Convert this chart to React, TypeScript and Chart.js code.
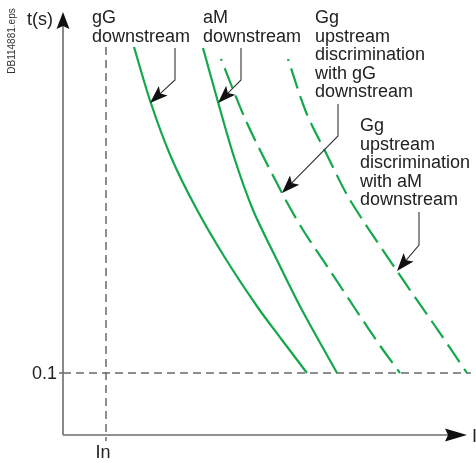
import React, { useEffect, useRef } from "react";
import { Chart, registerables } from "chart.js";

Chart.register(...registerables);

// Current (arbitrary linear units) and time (arbitrary linear units)
const gGDownstreamI = [17.75, 21.875, 27, 33.125, 40.375, 48.625, 54.75, 61];
const gGDownstreamT = [97, 83.25, 69.5, 57, 44.5, 32, 23.75, 15.5];

const aMDownstreamI = [35, 38.75, 42.75, 47.5, 53.5, 59.75, 68.5];
const aMDownstreamT = [96.75, 83.25, 69.5, 56.25, 43.75, 31.25, 15.5];

const ggWithGGI = [39.5, 46, 54.75, 60, 67, 72.75, 79.5, 84.25];
const ggWithGGT = [94, 78, 60.5, 51.25, 40.75, 32, 22, 15.5];

const ggWithAMI = [56.25, 60.75, 66, 71.75, 83.5, 92.5, 101];
const ggWithAMT = [94, 80.75, 70, 58.75, 41, 28, 15.5];

const X_MAX = 102;
const Y_MAX = 105;
const IN_VALUE = 10.75; // position of In on the current axis
const T01_VALUE = 15.5; // position of 0.1 s on the time axis

const xTickLabel = "In";
const yTickLabel = "0.1";
const xAxisLabel = "I";
const yAxisLabel = "t(s)";
const fileLabel = "DB114881.eps";

const labelGG = ["gG", "downstream"];
const labelAM = ["aM", "downstream"];
const labelGgGG = ["Gg", "upstream", "discrimination", "with gG", "downstream"];
const labelGgAM = ["Gg", "upstream", "discrimination", "with aM", "downstream"];

const GREEN = "#14a84b";
const FONT = '"Liberation Sans", Arial, Helvetica, sans-serif';

function pts(xs: number[], ys: number[]) {
  return xs.map((x, i) => ({ x, y: ys[i] }));
}

function arrowHead(
  ctx: CanvasRenderingContext2D,
  fx: number,
  fy: number,
  tx: number,
  ty: number,
  len: number,
  hw: number,
  notch: number
) {
  const dx = tx - fx;
  const dy = ty - fy;
  const d = Math.hypot(dx, dy);
  const ux = dx / d;
  const uy = dy / d;
  const px = -uy;
  const py = ux;
  const bx = tx - ux * len;
  const by = ty - uy * len;
  const nx = tx - ux * (len - notch);
  const ny = ty - uy * (len - notch);
  ctx.beginPath();
  ctx.moveTo(tx, ty);
  ctx.lineTo(bx + px * hw, by + py * hw);
  ctx.lineTo(nx, ny);
  ctx.lineTo(bx - px * hw, by - py * hw);
  ctx.closePath();
  ctx.fill();
}

const decorPlugin = {
  id: "decor",
  beforeDatasetsDraw(chart: any) {
    const ctx: CanvasRenderingContext2D = chart.ctx;
    const xs = chart.scales.x;
    const ys = chart.scales.y;
    const x0 = xs.getPixelForValue(0);
    const y0 = ys.getPixelForValue(0);
    const xIn = xs.getPixelForValue(IN_VALUE);
    const y01 = ys.getPixelForValue(T01_VALUE);
    ctx.save();
    ctx.strokeStyle = "#6a6a6a";
    ctx.lineWidth = 1.5;
    ctx.setLineDash([8, 5]);
    ctx.beginPath();
    ctx.moveTo(xIn, 47);
    ctx.lineTo(xIn, y0 + 6);
    ctx.stroke();
    ctx.beginPath();
    ctx.moveTo(x0, y01);
    ctx.lineTo(xs.getPixelForValue(X_MAX), y01);
    ctx.stroke();
    ctx.setLineDash([]);
    ctx.beginPath();
    ctx.moveTo(x0 - 4, y01);
    ctx.lineTo(x0, y01);
    ctx.stroke();
    ctx.restore();
  },
  afterDraw(chart: any) {
    const ctx: CanvasRenderingContext2D = chart.ctx;
    const xs = chart.scales.x;
    const ys = chart.scales.y;
    const x0 = xs.getPixelForValue(0);
    const y0 = ys.getPixelForValue(0);
    const xIn = xs.getPixelForValue(IN_VALUE);
    const y01 = ys.getPixelForValue(T01_VALUE);
    ctx.save();
    // axes
    ctx.strokeStyle = "#6d6d6d";
    ctx.lineWidth = 1.6;
    ctx.beginPath();
    ctx.moveTo(x0, y0);
    ctx.lineTo(x0, 22);
    ctx.moveTo(x0, y0);
    ctx.lineTo(458, y0);
    ctx.stroke();
    ctx.fillStyle = "#111";
    arrowHead(ctx, x0, 40, x0, 12, 17, 6.5, 3);
    arrowHead(ctx, 430, y0, 467, y0, 22, 6.5, 3);

    // texts
    ctx.fillStyle = "#222";
    ctx.font = `18px ${FONT}`;
    ctx.textBaseline = "alphabetic";
    ctx.textAlign = "left";
    ctx.fillText(yAxisLabel, 27, 25);
    ctx.fillText(xAxisLabel, 472, 442);
    ctx.textAlign = "right";
    ctx.fillText(yTickLabel, 57, y01 + 6);
    ctx.textAlign = "center";
    ctx.fillText(xTickLabel, xIn - 3, 458);
    ctx.textAlign = "left";
    const lh = 18.5;
    labelGG.forEach((t, i) => ctx.fillText(t, 92, 23 + i * lh));
    labelAM.forEach((t, i) => ctx.fillText(t, 203, 23 + i * lh));
    labelGgGG.forEach((t, i) => ctx.fillText(t, 315, 23 + i * lh));
    labelGgAM.forEach((t, i) => ctx.fillText(t, 360, 131 + i * lh));

    // file label
    ctx.save();
    ctx.translate(15, 41);
    ctx.rotate(-Math.PI / 2);
    ctx.font = `10px ${FONT}`;
    ctx.textAlign = "center";
    ctx.fillStyle = "#333";
    ctx.fillText(fileLabel, 0, 0);
    ctx.restore();

    // callouts
    const callouts = [
      [175, 48, 80, 150, 103],
      [241, 48, 80, 218, 103],
      [338, 104, 136, 282, 193],
      [419, 212, 245, 397, 271],
    ];
    ctx.strokeStyle = "#333";
    ctx.lineWidth = 1.1;
    ctx.fillStyle = "#111";
    callouts.forEach(([vx, vy1, vy2, tx, ty]) => {
      const d = Math.hypot(tx - vx, ty - vy2);
      const ex = tx - ((tx - vx) / d) * 12;
      const ey = ty - ((ty - vy2) / d) * 12;
      ctx.beginPath();
      ctx.moveTo(vx, vy1);
      ctx.lineTo(vx, vy2);
      ctx.lineTo(ex, ey);
      ctx.stroke();
      arrowHead(ctx, vx, vy2, tx, ty, 18, 6.5, 4);
    });
    ctx.restore();
  },
};

export default function App() {
  const ref = useRef<HTMLCanvasElement | null>(null);
  useEffect(() => {
    if (!ref.current) return;
    const common = {
      showLine: true,
      pointRadius: 0,
      borderWidth: 2.2,
      borderColor: GREEN,
      backgroundColor: GREEN,
      tension: 0.3,
      fill: false,
    };
    const chart = new Chart(ref.current, {
      type: "scatter",
      data: {
        datasets: [
          { ...common, label: "gG downstream", data: pts(gGDownstreamI, gGDownstreamT) },
          { ...common, label: "aM downstream", data: pts(aMDownstreamI, aMDownstreamT) },
          {
            ...common,
            label: "Gg upstream discrimination with gG downstream",
            data: pts(ggWithGGI, ggWithGGT),
            borderDash: [21, 8],
            borderDashOffset: 19,
          },
          {
            ...common,
            label: "Gg upstream discrimination with aM downstream",
            data: pts(ggWithAMI, ggWithAMT),
            borderDash: [21, 8],
            borderDashOffset: 19,
          },
        ],
      },
      options: {
        animation: false,
        responsive: false,
        events: [],
        layout: { padding: { left: 63, right: 476 - 63 - X_MAX * 4, top: 463 - 28 - Y_MAX * 4, bottom: 28 } },
        plugins: { legend: { display: false }, tooltip: { enabled: false } },
        scales: {
          x: { type: "linear", min: 0, max: X_MAX, display: false },
          y: { type: "linear", min: 0, max: Y_MAX, display: false },
        },
      },
      plugins: [decorPlugin],
    });
    return () => chart.destroy();
  }, []);
  return (
    <canvas
      ref={ref}
      width={476}
      height={463}
      style={{ position: "fixed", left: 0, top: 0, width: 476, height: 463, background: "#fff" }}
    />
  );
}
